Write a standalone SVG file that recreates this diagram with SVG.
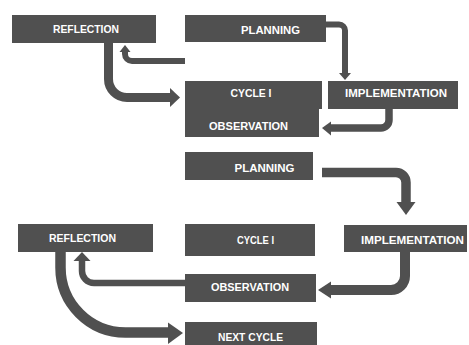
<svg xmlns="http://www.w3.org/2000/svg" width="469" height="345" viewBox="0 0 469 345">
<style>
.box{fill:#505050}
.t{fill:#ffffff;font-family:"Liberation Sans",Arial,sans-serif;font-weight:bold;font-size:11.5px;text-anchor:middle}
.ln{fill:none;stroke:#505050}
.hd{fill:#505050}
</style>
<rect width="469" height="345" fill="#ffffff"/>
<g id="reflection1"><rect class="box" x="12" y="15" width="144" height="28"/><text class="t" x="86" y="33" textLength="66" lengthAdjust="spacingAndGlyphs">REFLECTION</text></g>
<g id="planning1"><rect class="box" x="185" y="15" width="141" height="27"/><text class="t" x="270.5" y="34" textLength="59" lengthAdjust="spacingAndGlyphs">PLANNING</text></g>
<g id="cycle1"><rect class="box" x="185" y="81" width="137" height="28"/><text class="t" x="251" y="96.5" textLength="41" lengthAdjust="spacingAndGlyphs">CYCLE I</text></g>
<g id="observation1"><rect class="box" x="185" y="108.5" width="134" height="28.5"/><text class="t" x="248.5" y="130" textLength="79" lengthAdjust="spacingAndGlyphs">OBSERVATION</text></g>
<g id="implementation1"><rect class="box" x="328" y="81" width="130" height="28"/><text class="t" x="396" y="96.5" textLength="102" lengthAdjust="spacingAndGlyphs">IMPLEMENTATION</text></g>
<g id="planning2"><rect class="box" x="185" y="152" width="128" height="28"/><text class="t" x="264.5" y="172" textLength="60" lengthAdjust="spacingAndGlyphs">PLANNING</text></g>
<g id="reflection2"><rect class="box" x="18" y="224" width="135" height="28"/><text class="t" x="82.5" y="241.5" textLength="67" lengthAdjust="spacingAndGlyphs">REFLECTION</text></g>
<g id="cycle2"><rect class="box" x="185" y="224" width="130" height="32"/><text class="t" x="255.5" y="243.5" textLength="37" lengthAdjust="spacingAndGlyphs">CYCLE I</text></g>
<g id="implementation2"><rect class="box" x="344" y="225" width="123" height="27"/><text class="t" x="412.5" y="244" textLength="103" lengthAdjust="spacingAndGlyphs">IMPLEMENTATION</text></g>
<g id="observation2"><rect class="box" x="185" y="274" width="131" height="28"/><text class="t" x="250" y="290.5" textLength="78" lengthAdjust="spacingAndGlyphs">OBSERVATION</text></g>
<g id="nextcycle"><rect class="box" x="185" y="322" width="132" height="23"/><text class="t" x="250.5" y="341" textLength="65" lengthAdjust="spacingAndGlyphs">NEXT CYCLE</text></g>
<g id="connectors">
<path class="ln" stroke-width="6" d="M326,24.5 H339 A6 6 0 0 1 345,30.5 V74"/>
<polygon class="hd" points="339,73 351,73 345,80"/>
<path class="ln" stroke-width="7.5" d="M389,109 V120 A8 8 0 0 1 381,128 H330"/>
<polygon class="hd" points="331,121.5 331,135.5 322,128"/>
<path class="ln" stroke-width="6" d="M185,61 H132 A7 7 0 0 1 125,54 V51"/>
<polygon class="hd" points="119.5,52 130.5,52 125,45"/>
<path class="ln" stroke-width="9" d="M108.5,43 V79 A18.5 18.5 0 0 0 127,97.5 H171"/>
<polygon class="hd" points="170,88 170,107 180,97.5"/>
<path class="ln" stroke-width="9.5" d="M322,172.5 H396 A10 10 0 0 1 406,182.5 V203"/>
<polygon class="hd" points="396.5,202 415.5,202 406,215"/>
<path class="ln" stroke-width="10" d="M405,252 V276 A14 14 0 0 1 391,290 H330"/>
<polygon class="hd" points="331,281.5 331,298.5 318,290"/>
<path class="ln" stroke-width="6.5" d="M185,283 H94 A12 12 0 0 1 82,271 V260"/>
<polygon class="hd" points="73.5,261 90.5,261 82,252"/>
<path class="ln" stroke-width="10.5" d="M60.5,252 V267.5 A65 65 0 0 0 125.5,332.5 H169"/>
<polygon class="hd" points="168,322.5 168,344 183,333"/>
</g>
</svg>
